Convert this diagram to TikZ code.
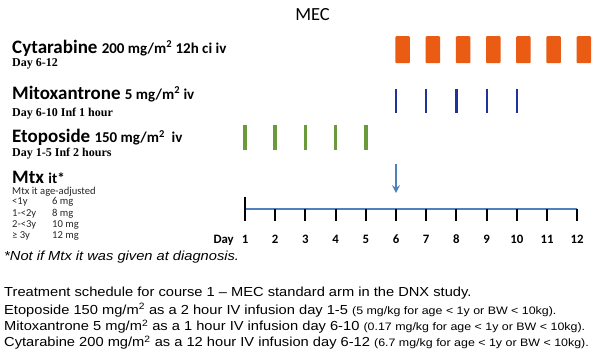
\documentclass[tikz,border=0pt]{standalone}
\usepackage{fontspec}
\setmainfont[FakeStretch=1.12]{Liberation Sans}
\newfontfamily\calfont{Carlito}
\newfontfamily\tmsfont{Liberation Serif}
\newfontfamily\widefont[FakeStretch=1.15]{Liberation Sans}
\usetikzlibrary{arrows.meta}
\definecolor{orng}{HTML}{EA5B14}
\definecolor{grn}{HTML}{6A9A3C}
\definecolor{dblue}{HTML}{1F3399}
\definecolor{tblue}{HTML}{4F81BD}
\newcommand{\smallpar}{\widefont\fontsize{10.8}{12}\selectfont}
\begin{document}
\begin{tikzpicture}[x=1pt,y=-1pt,
  lbl/.style={anchor=base west, inner sep=0pt, font=\calfont\bfseries},
  sub/.style={anchor=base west, inner sep=0pt, font=\tmsfont\bfseries\fontsize{12}{13}\selectfont},
  tbl/.style={anchor=base west, inner sep=0pt, font=\calfont\fontsize{10.6}{11}\selectfont, text=black!85},
  cbox/.style={fill=orng, draw=none, rounded corners=1pt, minimum width=14.5pt, minimum height=27pt, inner sep=0pt, anchor=north west},
  mline/.style={draw=dblue, line width=2.2pt},
  eline/.style={draw=grn, line width=3.6pt},
  daylbl/.style={anchor=base, inner sep=0pt, font=\calfont\bfseries\fontsize{12.8}{14}\selectfont},
  tick/.style={draw=black, line width=2pt},
  btxt/.style={anchor=base west, inner sep=0pt, font=\fontsize{13.1}{15}\selectfont}
]
\useasboundingbox (0,0) rectangle (600,360);

% day coordinates
\foreach \d in {1,...,12}{
  \coordinate (d\d) at ({245+(\d-1)*30.2},208.5);
}

% title
\node[anchor=base, inner sep=0pt, font=\calfont\fontsize{18.5}{20}\selectfont] (title) at (312.5,20.7) {MEC};

% labels
\node[lbl] (cyt) at (12,53) {\fontsize{19}{22}\selectfont Cytarabine {\fontsize{15}{17}\selectfont 200 mg/m\textsuperscript{2} 12h ci iv}};
\node[sub] (cytd) at (12,66.5) {Day 6-12};
\node[lbl] (mit) at (12,99) {\fontsize{19}{22}\selectfont Mitoxantrone {\fontsize{15}{17}\selectfont 5 mg/m\textsuperscript{2} iv}};
\node[sub] (mitd) at (12,116.5) {Day 6-10 Inf 1 hour};
\node[lbl] (eto) at (12,142.5) {\fontsize{19}{22}\selectfont Etoposide {\fontsize{15}{17}\selectfont 150 mg/m\textsuperscript{2}\ \ iv}};
\node[sub] (etod) at (12,156) {Day 1-5 Inf 2 hours};
\node[lbl] (mtx) at (12,183) {\fontsize{19}{22}\selectfont Mtx {\fontsize{15}{17}\selectfont it*}};
\node[tbl] (mtxh) at (12,194) {Mtx it age-adjusted};
\node[tbl] (r1a) at (12,204.5) {<1y};
\node[tbl] (r1b) at (52,204.5) {6 mg};
\node[tbl] (r2a) at (12,216) {1-<2y};
\node[tbl] (r2b) at (52,216) {8 mg};
\node[tbl] (r3a) at (12,227.5) {2-<3y};
\node[tbl] (r3b) at (52,227.5) {10 mg};
\node[tbl] (r4a) at (12,238.5) {≥ 3y};
\node[tbl] (r4b) at (52,238.5) {12 mg};

% cytarabine boxes
\foreach \d in {6,...,12}{
  \node[cbox] (c\d) at ([xshift=-0.8pt]d\d |- 0,36) {};
}
% mitoxantrone
\foreach \d in {6,...,10}{
  \coordinate (mt\d) at (d\d |- 0,88.5);
  \coordinate (mb\d) at (d\d |- 0,113);
  \draw[mline] (mt\d) -- (mb\d);
}
% etoposide
\foreach \d in {1,...,5}{
  \coordinate (et\d) at (d\d |- 0,125);
  \coordinate (eb\d) at (d\d |- 0,149.5);
  \draw[eline] (et\d) -- (eb\d);
}

% arrow
\coordinate (arS) at (d6 |- 0,164);
\coordinate (arE) at (d6 |- 0,193);
\draw[tblue, line width=2pt, -{Stealth[length=8pt,width=8pt,inset=3pt]}] (arS) -- (arE);

% timeline
\draw[tblue, line width=2pt] (d1) -- (d12);
\coordinate (t0) at (d1 |- 0,196.5);
\coordinate (b1) at (d1 |- 0,221);
\draw[tick] (t0) -- (b1);
\foreach \d in {2,...,12}{
  \coordinate (b\d) at (d\d |- 0,221);
  \draw[tick] (d\d) -- (b\d);
}
\node[daylbl, anchor=base east] (daytxt) at (234,243) {Day};
\foreach \d in {1,...,12}{
  \node[daylbl] (l\d) at (d\d |- 0,243) {\d};
}

% footnote
\node[btxt, font=\itshape\fontsize{13.1}{15}\selectfont] (note) at (4,260.7) {*Not if Mtx it was given at diagnosis.};

% caption
\node[btxt] (cap1) at (4,296.7) {Treatment schedule for course 1 – MEC standard arm in the DNX study.};
\node[btxt] (cap2) at (4,314.3) {Etoposide 150 mg/m\textsuperscript{2} as a 2 hour IV infusion day 1-5 {\smallpar(5 mg/kg for age < 1y or BW < 10kg).}};
\node[btxt] (cap3) at (4,330.7) {Mitoxantrone 5 mg/m\textsuperscript{2} as a 1 hour IV infusion day 6-10 {\smallpar(0.17 mg/kg for age < 1y or BW < 10kg).}};
\node[btxt] (cap4) at (4,346.7) {Cytarabine 200 mg/m\textsuperscript{2} as a 12 hour IV infusion day 6-12 {\smallpar(6.7 mg/kg for age < 1y or BW < 10kg).}};
\end{tikzpicture}
\end{document}
